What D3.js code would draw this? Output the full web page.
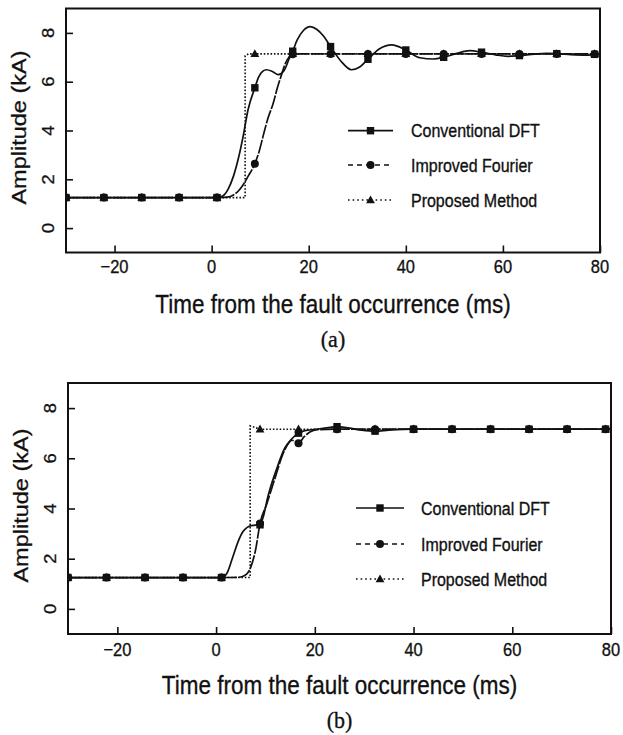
<!DOCTYPE html>
<html>
<head>
<meta charset="utf-8">
<script src="https://cdn.jsdelivr.net/npm/d3@7/dist/d3.min.js"></script>
<style>
  html, body { margin: 0; padding: 0; background: #fff; }
  svg { display: block; }
</style>
</head>
<body>
<script>
// ---------------- DATA ----------------
const xTicks = [-20, 0, 20, 40, 60, 80];
const yTicks = [0, 2, 4, 6, 8];
const seriesNames = ["Conventional DFT", "Improved Fourier", "Proposed Method"];
const markT = [-30, -22.2, -14.4, -6.7, 1.1, 8.9, 16.7, 24.5, 32.2, 40.0, 47.8, 55.6, 63.4, 71.1, 78.9];

// Panel (a)
const aDftT = [-30,-22.2,-14.4,-6.7,1.1,2.3,3.4,4.5,5.5,6.5,7.5,8.9,9.7,10.5,11.3,12.5,13.7,14.9,16.0,16.7,17.6,18.9,20.3,21.7,23.0,24.5,26.6,28.8,30.5,32.2,34.6,37.1,40.0,42.9,45.7,47.8,50.5,53.2,55.6,58.5,61.0,63.4,66.5,69.0,71.1,74.0,77.0,80];
const aDftV = [1.25,1.25,1.25,1.25,1.25,1.32,1.6,2.13,2.85,3.77,4.85,5.75,6.2,6.42,6.49,6.42,6.29,6.45,6.95,7.25,7.7,8.1,8.26,8.14,7.88,7.44,6.85,6.49,6.6,6.92,7.35,7.51,7.3,6.98,6.93,7.0,7.16,7.27,7.21,7.1,7.04,7.07,7.13,7.16,7.15,7.11,7.09,7.12];
const aDftM = [1.25,1.25,1.25,1.25,1.25,5.75,7.25,7.44,6.92,7.3,7.0,7.21,7.07,7.15,7.12];

const aImpT = [-30,-22.2,-14.4,-6.7,1.1,3.2,4.5,5.5,6.5,7.5,8.9,9.8,10.6,11.6,12.7,13.5,14.4,15.2,16.0,16.7,18.0,24.5,32.2,40.0,47.8,55.6,63.4,71.1,80];
const aImpV = [1.25,1.25,1.25,1.25,1.25,1.27,1.36,1.52,1.78,2.12,2.64,3.15,3.77,4.5,5.13,5.72,6.29,6.75,7.02,7.12,7.14,7.14,7.14,7.14,7.14,7.14,7.14,7.14,7.14];
const aImpM = [1.25,1.25,1.25,1.25,1.25,2.64,7.12,7.14,7.14,7.14,7.14,7.14,7.14,7.14,7.14];

const aProT = [-30, 6.9, 6.9, 7.6, 80];
const aProV = [1.25, 1.25, 7.06, 7.14, 7.14];
const aProM = [1.25,1.25,1.25,1.25,1.25,7.14,7.14,7.14,7.14,7.14,7.14,7.14,7.14,7.14,7.14];

// Panel (b)
const bDftT = [-30,-22.2,-14.4,-6.7,1.1,2.2,3.4,4.5,5.45,6.3,7.15,8.9,9.6,10.4,12.2,13.9,15.2,16.7,18.0,20.0,22.0,24.5,27.0,29.5,32.2,35.0,40.0,47.8,55.6,63.4,71.1,80];
const bDftV = [1.25,1.25,1.25,1.25,1.25,1.42,2.08,2.7,3.08,3.25,3.32,3.35,3.7,4.4,5.54,6.4,6.75,7.0,7.1,7.15,7.2,7.26,7.2,7.12,7.08,7.12,7.16,7.16,7.16,7.16,7.16,7.16];
const bDftM = [1.25,1.25,1.25,1.25,1.25,3.35,7.0,7.26,7.08,7.16,7.16,7.16,7.16,7.16,7.16];

const bImpT = [-30,-22.2,-14.4,-6.7,1.1,4.6,5.8,6.9,8.0,8.9,10.3,12.0,13.5,14.5,15.4,16.7,17.8,19.0,20.5,24.5,32.2,40.0,47.8,55.6,63.4,71.1,80];
const bImpV = [1.25,1.25,1.25,1.25,1.25,1.26,1.33,1.6,2.35,3.4,4.2,5.25,6.15,6.55,6.72,6.6,6.85,7.05,7.14,7.16,7.16,7.16,7.16,7.16,7.16,7.16,7.16];
const bImpM = [1.25,1.25,1.25,1.25,1.25,3.4,6.6,7.16,7.16,7.16,7.16,7.16,7.16,7.16,7.16];

const bProT = [-30, 6.9, 6.9, 8.9, 80];
const bProV = [1.25, 1.25, 7.29, 7.16, 7.16];
const bProM = [1.25,1.25,1.25,1.25,1.25,7.16,7.16,7.16,7.16,7.16,7.16,7.16,7.16,7.16,7.16];

const xTitle = "Time from the fault occurrence (ms)";
const yTitle = "Amplitude (kA)";
const panelLabels = ["(a)", "(b)"];

// ---------------- DRAWING ----------------
const W = 623, H = 735;
const SANS = "'Liberation Sans', Arial, Helvetica, sans-serif";
const SERIF = "'Liberation Serif', 'Times New Roman', serif";
const SY = 1.12; // vertical stretch of scanned glyphs
const INK = "#111";

const svg = d3.select("body").append("svg")
  .attr("width", W).attr("height", H)
  .attr("viewBox", `0 0 ${W} ${H}`);
svg.append("rect").attr("width", W).attr("height", H).attr("fill", "#fff");

function hText(g, x, y, s, size, anchor, family, sy) {
  return g.append("text")
    .attr("transform", `translate(${x},${y}) scale(1,${sy})`)
    .attr("text-anchor", anchor)
    .attr("font-family", family)
    .attr("font-size", size)
    .attr("fill", INK).attr("stroke", INK).attr("stroke-width", 0.3)
    .text(s);
}
function vText(g, x, y, s, size, sy) {
  return g.append("text")
    .attr("transform", `translate(${x},${y}) rotate(-90) scale(${sy},1)`)
    .attr("text-anchor", "middle")
    .attr("font-family", SANS)
    .attr("font-size", size)
    .attr("fill", INK).attr("stroke", INK).attr("stroke-width", 0.3)
    .text(s);
}

const styles = [
  { dash: null, legendDash: null, marker: "square" },
  { dash: "14,1.5", legendDash: "5,4", marker: "circle" },
  { dash: "1.6,1.8", legendDash: "1.6,3", marker: "triangle" }
];

function drawMarker(g, type, cx, cy) {
  if (type === "square") {
    g.append("rect").attr("x", cx - 3.7).attr("y", cy - 3.7)
      .attr("width", 7.4).attr("height", 7.4).attr("fill", INK);
  } else if (type === "circle") {
    g.append("circle").attr("cx", cx).attr("cy", cy).attr("r", 4).attr("fill", INK);
  } else {
    g.append("path")
      .attr("d", `M${cx},${cy - 4.6}L${cx + 4.4},${cy + 3.2}L${cx - 4.4},${cy + 3.2}Z`)
      .attr("fill", INK);
  }
}

function drawPanel(p) {
  const g = svg.append("g");
  const x = d3.scaleLinear().domain([-30, 80]).range([p.left, p.right]);
  const y = d3.scaleLinear().domain([-1, 9]).range([p.bottom, p.top]);

  // tick marks (inward)
  g.append("g").attr("transform", `translate(0,${p.bottom})`)
    .call(d3.axisBottom(x).tickValues(xTicks).tickSizeInner(-7).tickSizeOuter(0).tickFormat(""))
    .call(s => s.select(".domain").remove())
    .call(s => s.selectAll("line").attr("stroke", INK).attr("stroke-width", 1.6));
  g.append("g").attr("transform", `translate(${p.left},0)`)
    .call(d3.axisLeft(y).tickValues(yTicks).tickSizeInner(-7).tickSizeOuter(0).tickFormat(""))
    .call(s => s.select(".domain").remove())
    .call(s => s.selectAll("line").attr("stroke", INK).attr("stroke-width", 1.6));

  // tick labels
  xTicks.forEach(t => {
    hText(g, x(t), p.xLabY, t < 0 ? "\u2212" + Math.abs(t) : String(t), 16.5, "middle", SANS, SY);
  });
  yTicks.forEach(t => {
    vText(g, p.left - 12, y(t), String(t), 16.5, SY);
  });

  // series
  const series = [
    { t: p.dftT, v: p.dftV, m: p.dftM },
    { t: p.impT, v: p.impV, m: p.impM },
    { t: p.proT, v: p.proV, m: p.proM }
  ];
  const clipId = "clip" + p.id;
  svg.append("clipPath").attr("id", clipId).append("rect")
    .attr("x", p.left).attr("y", p.top).attr("width", p.right - p.left).attr("height", p.bottom - p.top);
  const plot = g.append("g").attr("clip-path", `url(#${clipId})`);

  series.forEach((s, i) => {
    const pts = s.t.map((t, k) => [t, s.v[k]]);
    const line = d3.line().x(d => x(d[0])).y(d => y(d[1]))
      .curve(i === 2 ? d3.curveLinear : d3.curveMonotoneX);
    plot.append("path").datum(pts).attr("d", line)
      .attr("fill", "none").attr("stroke", INK).attr("stroke-width", i === 2 ? 1.6 : 1.7)
      .attr("stroke-dasharray", styles[i].dash);
  });
  series.forEach((s, i) => {
    markT.forEach((t, k) => drawMarker(plot, styles[i].marker, x(t), y(s.m[k])));
  });

  // frame
  g.append("rect").attr("x", p.left).attr("y", p.top)
    .attr("width", p.right - p.left).attr("height", p.bottom - p.top)
    .attr("fill", "none").attr("stroke", INK).attr("stroke-width", 2);

  // legend
  seriesNames.forEach((name, i) => {
    const ry = p.legRows[i];
    g.append("line").attr("x1", p.legX1).attr("x2", p.legX2).attr("y1", ry).attr("y2", ry)
      .attr("stroke", INK).attr("stroke-width", 1.7)
      .attr("stroke-dasharray", styles[i].legendDash);
    drawMarker(g, styles[i].marker, (p.legX1 + p.legX2) / 2, ry);
    hText(g, p.legTextX, ry + 6.5, name, 16, "start", SANS, SY);
  });

  // axis titles
  hText(g, (p.left + p.right) / 2, p.xTitleY, xTitle, 22.5, "middle", SANS, SY);
  vText(g, p.yTitleX, (p.top + p.bottom) / 2 - 3, yTitle, 21, SY);
  // panel label
  hText(g, (p.left + p.right) / 2, p.labY, p.label, 22, "middle", SERIF, 1.05);
}

drawPanel({
  id: "a", left: 66, right: 600, top: 8.5, bottom: 252.5,
  xLabY: 273, xTitleY: 313, labY: 347, yTitleX: 26,
  legX1: 348, legX2: 393, legTextX: 411, legRows: [130.7, 165, 200],
  dftT: aDftT, dftV: aDftV, dftM: aDftM,
  impT: aImpT, impV: aImpV, impM: aImpM,
  proT: aProT, proV: aProV, proM: aProM,
  label: panelLabels[0]
});
drawPanel({
  id: "b", left: 68, right: 611, top: 383, bottom: 634,
  xLabY: 656, xTitleY: 694, labY: 728, yTitleX: 28,
  legX1: 356, legX2: 404, legTextX: 421, legRows: [508, 544, 579],
  dftT: bDftT, dftV: bDftV, dftM: bDftM,
  impT: bImpT, impV: bImpV, impM: bImpM,
  proT: bProT, proV: bProV, proM: bProM,
  label: panelLabels[1]
});
</script>
</body>
</html>
